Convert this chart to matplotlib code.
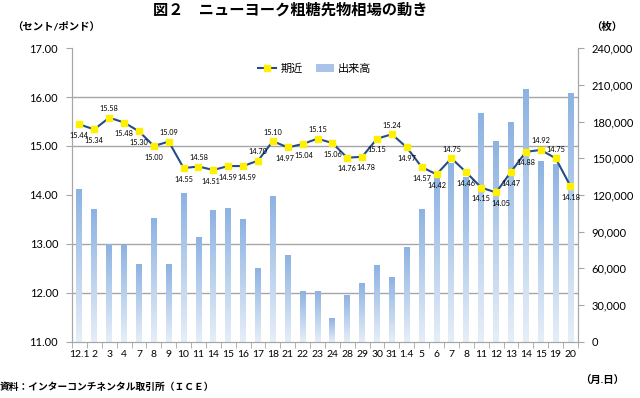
import numpy as np
import matplotlib
matplotlib.use("Agg")
import matplotlib.pyplot as plt
from matplotlib.colors import LinearSegmentedColormap
from matplotlib.lines import Line2D
from matplotlib.patches import Patch
from matplotlib.ticker import MultipleLocator, FuncFormatter

plt.rcParams['font.family'] = ['Lato', 'Noto Sans CJK JP', 'DejaVu Sans']

# data
dates = ["12.1", "2", "3", "4", "7", "8", "9", "10", "11", "14", "15", "16",
         "17", "18", "21", "22", "23", "24", "28", "29", "30", "31", "1.4",
         "5", "6", "7", "8", "11", "12", "13", "14", "15", "19", "20"]
price = [15.44, 15.34, 15.58, 15.48, 15.30, 15.00, 15.09, 14.55, 14.58, 14.51,
         14.59, 14.59, 14.70, 15.10, 14.97, 15.04, 15.15, 15.06, 14.76, 14.78,
         15.15, 15.24, 14.97, 14.57, 14.42, 14.75, 14.46, 14.15, 14.05, 14.47,
         14.88, 14.92, 14.75, 14.18]
volume = [124800, 108300, 80100, 79000, 63700, 101100, 63200, 121300, 85300,
          107600, 109500, 100500, 60500, 119100, 70800, 40900, 40900, 19400,
          38400, 48200, 62400, 52600, 77100, 108700, 134800, 146300, 134300,
          187100, 164300, 179300, 206200, 147600, 144900, 202900]
# a = label above the marker, b = below; small sideways nudges in points
label_pos = "bbabbbababbbaabbabbbbabbbabbbbbaab"
label_dx = {9: -1.5, 11: 3, 14: -2, 15: 1, 19: 3, 28: 3.5}

x = np.arange(len(dates))

fig = plt.figure(figsize=(6.4, 3.98), dpi=100)
ax = fig.add_axes([0.1125, 0.1415, 0.7905, 0.7375])
ax2 = ax.twinx()
ax.set_zorder(ax2.get_zorder() + 1)
ax.patch.set_visible(False)

grid_c = '#A6A6A6'

# volume bars with vertical gradient
cmap = LinearSegmentedColormap.from_list('bar', ['#E6EEF8', '#8DB3E2'])
grad = np.linspace(0, 1, 100).reshape(-1, 1)
w = 0.4
for xi, v in zip(x, volume):
    ax2.imshow(grad, extent=(xi - w / 2, xi + w / 2, 0, v), origin='lower',
               aspect='auto', cmap=cmap, zorder=2)
ax2.set_xlim(-0.5, len(dates) - 0.5)
ax2.set_ylim(0, 240000)
ax2.yaxis.set_major_locator(MultipleLocator(30000))
ax2.yaxis.set_minor_locator(MultipleLocator(40000))
ax2.yaxis.set_major_formatter(FuncFormatter(lambda v, p: f"{int(v):,}"))
ax2.grid(which='minor', axis='y', color=grid_c, lw=1.0, zorder=0)
ax2.set_axisbelow(True)
ax2.tick_params(axis='y', which='minor', length=0)
ax2.tick_params(axis='y', which='major', length=4, color=grid_c,
                labelsize=8, pad=6)

# price line
ax.plot(x, price, color='#244C8A', lw=1.5, marker='s', markersize=5,
        markerfacecolor='#FFF000', markeredgecolor='#FFF000', zorder=3)
for i, (xi, v, p) in enumerate(zip(x, price, label_pos)):
    dy = 6.5 if p == 'a' else -8
    ax.annotate(f"{v:.2f}", (xi, v), xytext=(label_dx.get(i, 0), dy),
                textcoords='offset points', ha='center', va='center',
                fontsize=5.3, zorder=4)

ax.set_ylim(11, 17)
ax.set_xlim(-0.5, len(dates) - 0.5)
ax.yaxis.set_major_locator(MultipleLocator(1))
ax.yaxis.set_major_formatter(FuncFormatter(lambda v, p: f"{v:.2f}"))
ax.set_xticks(x)
ax.set_xticklabels(dates)
ax.set_xticks(np.arange(-0.5, len(dates), 1), minor=True)
ax.tick_params(axis='x', which='major', length=0, labelsize=7.5, pad=6)
ax.tick_params(axis='x', which='minor', length=4, color=grid_c)
ax.tick_params(axis='y', which='major', length=4, color=grid_c,
               labelsize=8, pad=6)

for a in (ax, ax2):
    a.spines['top'].set_visible(False)
    for s in ('left', 'right', 'bottom'):
        a.spines[s].set_color(grid_c)

handles = [Line2D([], [], color='#244C8A', lw=1.5, marker='s', markersize=5,
                  markerfacecolor='#FFF000', markeredgecolor='#FFF000'),
           Patch(facecolor='#A9C4E8', edgecolor='none')]
ax.legend(handles, ['期近', '出来高'], loc='center', bbox_to_anchor=(0.48, 0.932),
          ncol=2, frameon=False, fontsize=8, handlelength=1.6,
          columnspacing=1.2, handletextpad=0.4)

fig.text(290 / 640, 1 - 10 / 398, '図２　ニューヨーク粗糖先物相場の動き',
         ha='center', va='center', fontsize=11, fontweight='bold')
fig.text(12 / 640, 1 - 27 / 398, '（セント/ポンド）', ha='left', va='center',
         fontsize=7.5, fontweight='bold')
fig.text(622 / 640, 1 - 27 / 398, '（枚）', ha='right', va='center',
         fontsize=7.5, fontweight='bold')
fig.text(624 / 640, 1 - 381 / 398, '（月.日）', ha='right', va='center',
         fontsize=7.5, fontweight='bold')
fig.text(0, 1 - 387 / 398, '資料：インターコンチネンタル取引所（ＩＣＥ）',
         ha='left', va='center', fontsize=7, fontweight='bold')

fig.savefig('out.png', dpi=100)
